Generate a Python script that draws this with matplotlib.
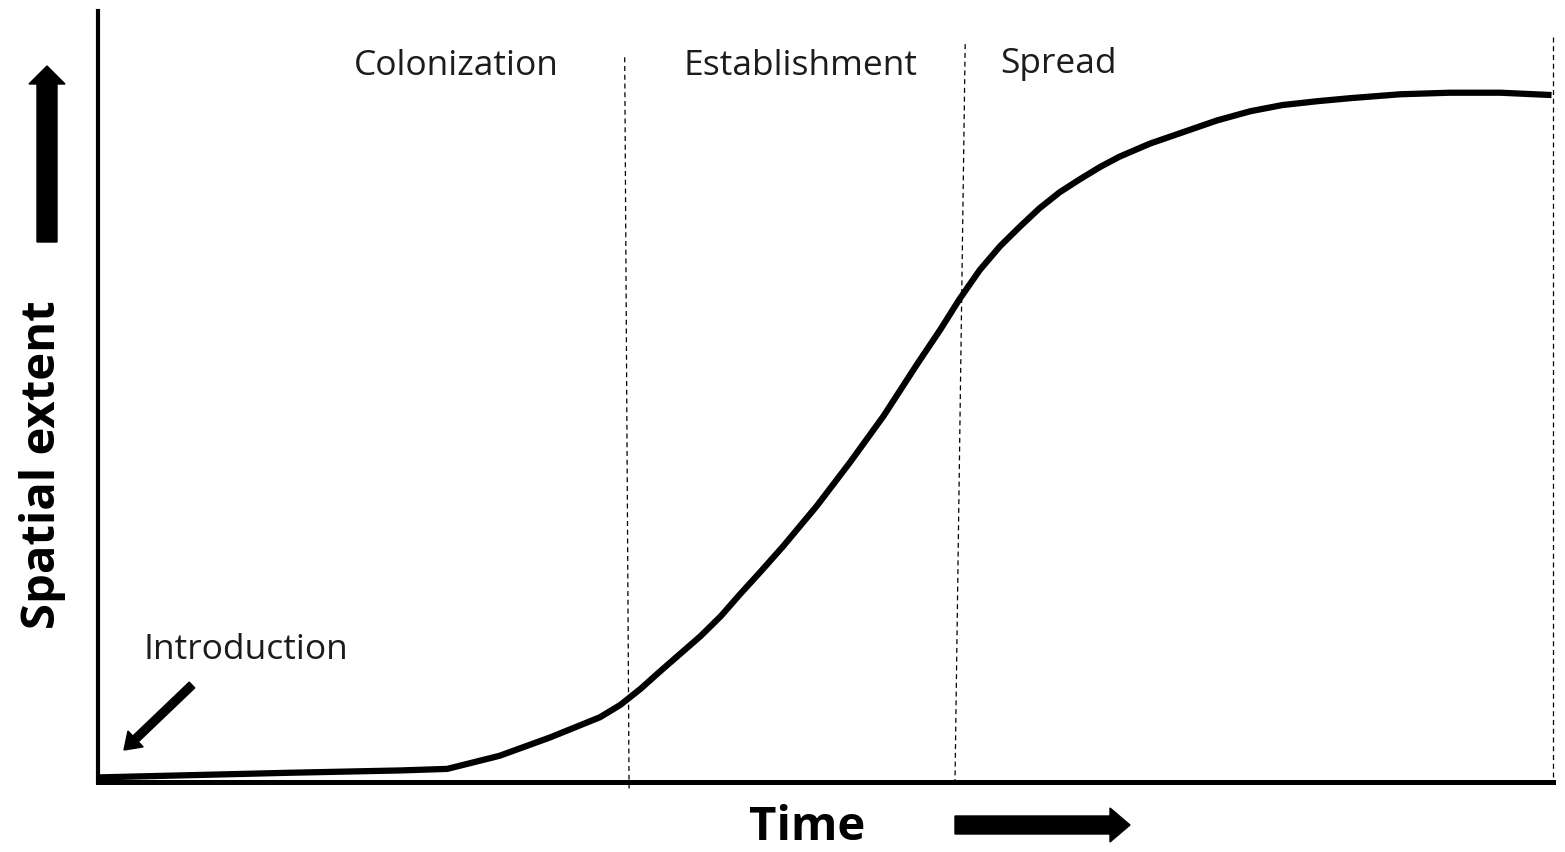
import numpy as np
import matplotlib
matplotlib.use("Agg")
import matplotlib.pyplot as plt
from matplotlib.patches import FancyArrow

# Curve: time (0-100) vs spatial extent (0-100)
time = [0.1, 13.2, 20.8, 24.0, 27.6, 31.1, 34.5, 35.9, 37.3, 38.6, 40.0,
        41.4, 42.8, 44.1, 45.5, 47.1, 49.4, 51.7, 54.0, 56.3, 57.9, 59.2,
        60.6, 62.0, 63.4, 64.7, 66.1, 67.5, 68.9, 70.2, 72.3, 74.6, 76.9,
        79.2, 81.4, 83.8, 86.1, 89.5, 92.9, 96.4, 99.9]
extent = [0.6, 1.2, 1.5, 1.7, 3.4, 5.8, 8.4, 10.0, 12.1, 14.3, 16.6,
          18.9, 21.5, 24.3, 27.2, 30.6, 35.8, 41.5, 47.5, 54.2, 58.7, 62.6,
          66.4, 69.5, 72.1, 74.4, 76.5, 78.2, 79.8, 81.1, 82.8, 84.3, 85.8,
          87.0, 87.8, 88.3, 88.7, 89.2, 89.4, 89.4, 89.1]

# Phase labels and boundaries
phase_names = ["Colonization", "Establishment", "Spread"]
phase_label_x = [24.6, 48.3, 66.0]
phase_label_y = [93.0, 93.0, 93.3]
boundary_top_x = [36.2, 59.6, 100.0]
boundary_bottom_x = [36.5, 58.9, 100.0]
boundary_top_y = [94.0, 95.7, 96.6]
boundary_bottom_y = [-0.9, 0.0, 0.0]

W, H = 1565, 853
fig = plt.figure(figsize=(W / 100, H / 100), dpi=100)
ax = fig.add_axes([98 / W, (H - 783) / H, (1553 - 98) / W, (783 - 12) / H])
ax.set_xlim(0, 100)
ax.set_ylim(0, 100)
for s in ["top", "right"]:
    ax.spines[s].set_visible(False)
ax.spines["left"].set_linewidth(3.0)
ax.spines["bottom"].set_linewidth(3.6)
ax.set_xticks([])
ax.set_yticks([])

ax.plot(time, extent, color="black", lw=4.5, solid_capstyle="butt",
        solid_joinstyle="round", clip_on=False)

for i in range(len(boundary_top_x)):
    ax.plot([boundary_top_x[i], boundary_bottom_x[i]],
            [boundary_top_y[i], boundary_bottom_y[i]],
            color="black", lw=0.9, ls=(0, (4, 3)), clip_on=False)

font = "Open Sans"
for name, x, y in zip(phase_names, phase_label_x, phase_label_y):
    ax.text(x, y, name, ha="center", va="center", fontsize=25.5,
            family=font, color="#1c1c1c")

ax.text(3.1, 17.3, "Introduction", ha="left", va="center", fontsize=25.5,
        family=font, color="#1c1c1c")

fig.text(43 / W, (H - 465) / H, "Spatial extent", rotation=90, ha="center",
         va="center", fontsize=34, fontweight="bold", family=font)
fig.text(807 / W, (H - 828) / H, "Time", ha="center", va="center",
         fontsize=34, fontweight="bold", family=font)

# Decorative arrows, placed in inches from the bottom-left corner
tr = fig.dpi_scale_trans
fig.patches.append(FancyArrow(47 / 100, (H - 243) / 100, 0, (243 - 67) / 100,
                              width=0.20, head_width=0.36, head_length=0.18,
                              length_includes_head=True, color="black",
                              transform=tr, figure=fig))
fig.patches.append(FancyArrow(955 / 100, (H - 826) / 100, (1130 - 955) / 100, 0,
                              width=0.18, head_width=0.34, head_length=0.20,
                              length_includes_head=True, color="black",
                              transform=tr, figure=fig))
fig.patches.append(FancyArrow(192 / 100, (H - 686) / 100, -(192 - 124) / 100,
                              -(751 - 686) / 100, width=0.08, head_width=0.22,
                              head_length=0.16, length_includes_head=True,
                              color="black", transform=tr, figure=fig))

fig.savefig("out.png", dpi=100)
